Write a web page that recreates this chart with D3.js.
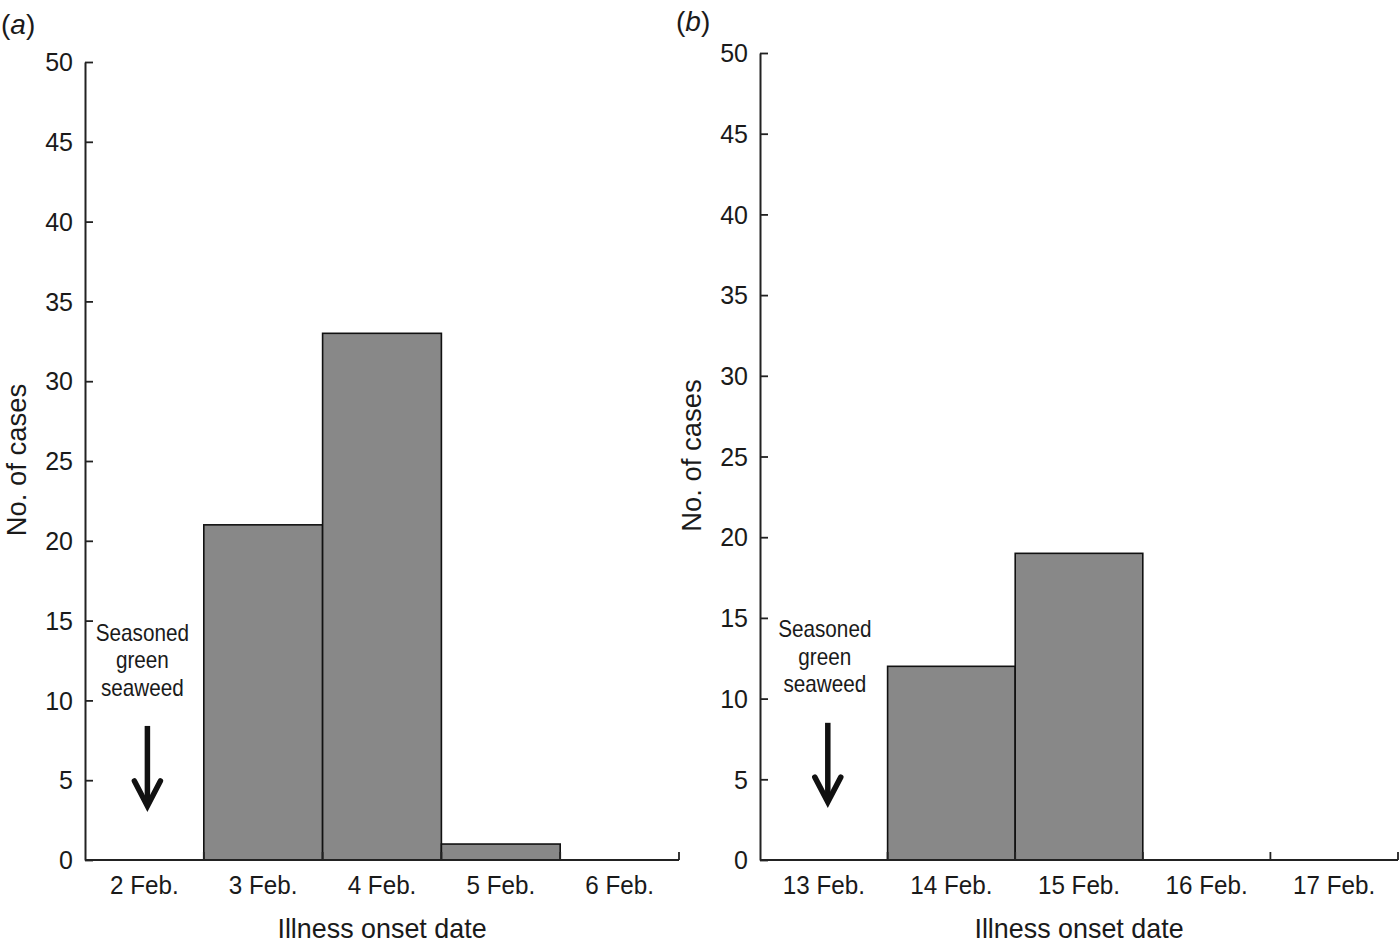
<!DOCTYPE html>
<html><head><meta charset="utf-8">
<script src="https://cdn.jsdelivr.net/npm/d3@7"></script>
<style>
html,body{margin:0;padding:0;background:#fff;}
svg text{font-family:"Liberation Sans",Arial,sans-serif;fill:#1a1a1a;}
</style></head><body>
<svg id="chart" width="1400" height="946"></svg>
<script>
const categoriesA = ["2 Feb.","3 Feb.","4 Feb.","5 Feb.","6 Feb."];
const casesA = [0,21,33,1,0];
const categoriesB = ["13 Feb.","14 Feb.","15 Feb.","16 Feb.","17 Feb."];
const casesB = [0,12,19,0,0];
const yTicks = [0,5,10,15,20,25,30,35,40,45,50];
const annotationLines = ["Seasoned","green","seaweed"];

const svg = d3.select("#chart");

function panel(opts){
  const {cats, vals, x0, x1, yTop, yBottom, label, labelX, labelY, titleX, arrow} = opts;
  const g = svg.append("g");
  const x = d3.scaleBand().domain(cats).range([x0,x1]).padding(0);
  const y = d3.scaleLinear().domain([0,50]).range([yBottom,yTop]);

  // bars
  g.selectAll("rect.bar").data(cats.map((c,i)=>({c,v:vals[i]})).filter(d=>d.v>0))
    .enter().append("rect").attr("class","bar")
    .attr("x",d=>x(d.c)).attr("width",x.bandwidth())
    .attr("y",d=>y(d.v)).attr("height",d=>y(0)-y(d.v))
    .attr("fill","#888888").attr("stroke","#111").attr("stroke-width",1.6);

  // y axis
  const yAxis = d3.axisLeft(y).tickValues(yTicks).tickSizeInner(-8).tickSizeOuter(0).tickPadding(12);
  const ya = g.append("g").attr("transform",`translate(${x0},0)`).call(yAxis);
  ya.select(".domain").attr("stroke","#222").attr("stroke-width",2);
  ya.selectAll(".tick line").attr("stroke","#222").attr("stroke-width",1.8);
  ya.selectAll(".tick text").attr("font-size",25).attr("fill","#1a1a1a").attr("dy","0.35em");

  // x axis
  const xa = g.append("g").attr("transform",`translate(0,${yBottom})`);
  xa.append("line").attr("x1",x0).attr("x2",x1).attr("y1",0).attr("y2",0)
    .attr("stroke","#222").attr("stroke-width",2);
  const bounds = cats.map(c=>x(c)+x.bandwidth());
  xa.selectAll("line.tk").data(bounds).enter().append("line").attr("class","tk")
    .attr("x1",d=>d).attr("x2",d=>d).attr("y1",0).attr("y2",-8)
    .attr("stroke","#222").attr("stroke-width",1.8);
  xa.selectAll("text").data(cats).enter().append("text")
    .attr("transform",d=>`translate(${x(d)+x.bandwidth()/2},34) scale(0.97,1)`)
    .attr("text-anchor","middle").attr("font-size",25).text(d=>d);

  // titles
  g.append("text").attr("transform",`translate(${(x0+x1)/2},${yBottom+78}) scale(0.96,1)`)
    .attr("text-anchor","middle").attr("font-size",28).text("Illness onset date");
  g.append("text").attr("transform",`translate(${titleX},${(y(0)+y(50))/2 - 1}) rotate(-90) scale(0.98,1)`)
    .attr("text-anchor","middle").attr("font-size",28).text("No. of cases");

  // panel label
  const pl = g.append("text").attr("x",labelX).attr("y",labelY).attr("font-size",28);
  pl.append("tspan").text("(");
  pl.append("tspan").attr("font-style","italic").text(label);
  pl.append("tspan").text(")");

  // annotation
  const cx = x(cats[0]) + x.bandwidth()/2;
  g.selectAll("text.ann").data(annotationLines).enter().append("text").attr("class","ann")
    .attr("transform",(d,i)=>`translate(${cx + arrow.tdx},${y(arrow.textV)+i*27.5}) scale(0.9,1)`)
    .attr("text-anchor","middle").attr("font-size",23).text(d=>d);
  const ax = cx + arrow.adx;
  const yt = y(arrow.top), yb = y(arrow.bottom);
  g.append("line").attr("x1",ax).attr("x2",ax).attr("y1",yt).attr("y2",yb-4)
    .attr("stroke","#111").attr("stroke-width",5.5);
  g.append("polyline").attr("points",`${ax-13},${yb-28} ${ax},${yb-3} ${ax+13},${yb-28}`)
    .attr("fill","none").attr("stroke","#111").attr("stroke-width",5.5)
    .attr("stroke-linejoin","miter").attr("stroke-linecap","round");
}

panel({cats:categoriesA, vals:casesA, x0:85, x1:679, yTop:62, yBottom:860,
  label:"a", labelX:1, labelY:34, titleX:26,
  arrow:{tdx:-2, adx:3, textV:13.75, top:8.4, bottom:3.2}});
panel({cats:categoriesB, vals:casesB, x0:760, x1:1398, yTop:53, yBottom:860,
  label:"b", labelX:676, labelY:31, titleX:701,
  arrow:{tdx:1, adx:4, textV:13.8, top:8.5, bottom:3.4}});
</script>
</body></html>
